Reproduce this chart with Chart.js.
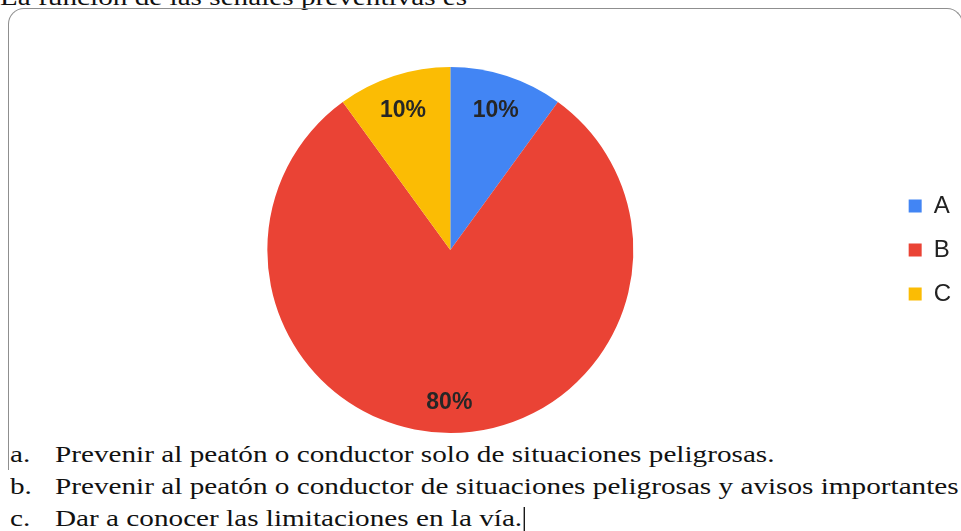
<!DOCTYPE html>
<html>
<head>
<meta charset="utf-8">
<script src="https://cdn.jsdelivr.net/npm/chart.js@4"></script>
<style>
  body { margin: 0; background: #fff; width: 961px; height: 531px; overflow: hidden; position: relative; }
  .title { position: absolute; left: 0; top: -14px; font: 23px/23px "Liberation Serif", serif; color: #111; white-space: nowrap; transform: scaleX(1.27); transform-origin: 0 0; }
  .frame { position: absolute; left: 8px; top: 8px; width: 955px; height: 462px; border: 1.5px solid #8f8f8f; border-bottom: none; border-radius: 16px 16px 0 0; box-sizing: border-box; }
  #chart { position: absolute; left: 0; top: 0; }
  .line { position: absolute; left: 0; width: 961px; font: 23px/23px "Liberation Serif", serif; color: #111; white-space: nowrap; }
  .line span.k, .line span.t { position: absolute; transform: scaleX(1.27); transform-origin: 0 0; }
  .line .k { left: 10px; }
  .line .t { left: 55px; }
  .cursor { display: inline-block; width: 1px; height: 24px; background: #000; vertical-align: -5px; margin-left: 1px; }
</style>
</head>
<body>
<div class="title">La función de las señales preventivas es</div>
<div class="frame"></div>
<canvas id="chart" width="961" height="440"></canvas>
<div class="line" style="top:443px"><span class="k">a.</span><span class="t">Prevenir al peatón o conductor solo de situaciones peligrosas.</span></div>
<div class="line" style="top:475px"><span class="k">b.</span><span class="t">Prevenir al peatón o conductor de situaciones peligrosas y avisos importantes</span></div>
<div class="line" style="top:507px"><span class="k">c.</span><span class="t">Dar a conocer las limitaciones en la vía.<span class="cursor"></span></span></div>
<script>
// answer options and share of responses
let optionLabels = ["A", "B", "C"]
let responseShare = [10, 80, 10]
let sliceColors = ["#4285F4", "#EA4335", "#FBBC04"]

// draws the percentage inside each slice
let sliceLabels = {
    id: "sliceLabels",
    afterDatasetsDraw: function(chart)
    {
        let ctx = chart.ctx
        let meta = chart.getDatasetMeta(0)
        let values = chart.data.datasets[0].data
        let total = values.reduce((a, b) => a + b, 0)
        ctx.save()
        ctx.font = "bold 23px Arial, 'Liberation Sans', sans-serif"
        ctx.fillStyle = "#262626"
        ctx.textAlign = "center"
        ctx.textBaseline = "middle"
        for (var i = 0; i < meta.data.length; i++)
        {
            let arc = meta.data[i].getProps(["x", "y", "startAngle", "endAngle", "outerRadius"], true)
            let mid = (arc.startAngle + arc.endAngle) / 2
            let r = arc.outerRadius * 0.82
            let text = Math.round(values[i] / total * 100) + "%"
            ctx.fillText(text, arc.x + Math.cos(mid) * r - 1, arc.y + Math.sin(mid) * r + 3)
        }
        ctx.restore()
    }
}

var ctx = document.getElementById("chart").getContext("2d")
var myChart = new Chart(ctx, {
    type: "pie",
    data: {
        labels: optionLabels,
        datasets: [{
            data: responseShare,
            backgroundColor: sliceColors,
            borderWidth: 0
        }]
    },
    options: {
        responsive: false,
        animation: false,
        layout: { padding: { top: 67, bottom: 7, left: 12, right: 0 } },
        plugins: {
            tooltip: { enabled: false },
            legend: {
                position: "right",
                labels: {
                    boxWidth: 13,
                    boxHeight: 13,
                    padding: 20,
                    color: "#222",
                    font: { family: "Arial, 'Liberation Sans', sans-serif", size: 24 }
                }
            }
        }
    },
    plugins: [sliceLabels]
})
</script>
</body>
</html>
